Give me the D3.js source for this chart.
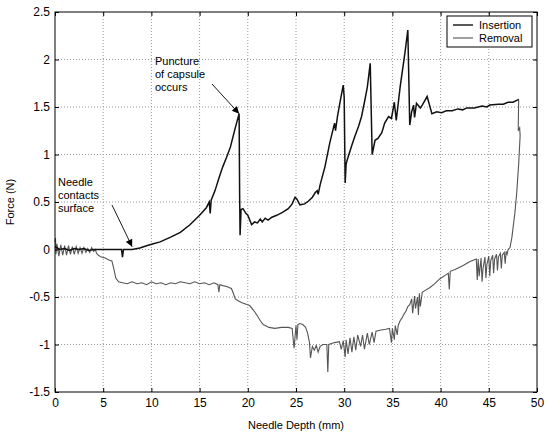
<!DOCTYPE html>
<html>
<head>
<meta charset="utf-8">
<script src="https://cdn.jsdelivr.net/npm/d3@7"></script>
<style>
  body { margin: 0; background: #fff; }
  svg { display: block; font-family: "Liberation Sans", Arial, sans-serif; }
</style>
</head>
<body>
<div id="chart"></div>
<script>
// data: [needle depth (mm), force (N)]
const insertion = [
  [0, 0.03], [0.5, 0.0], [1, 0.01], [1.5, -0.01], [2, 0.01], [2.5, 0.0], [3, 0.01], [3.5, -0.01],
  [4, 0.0], [5, 0.0], [6, 0.0], [6.9, 0.0], [7.0, -0.08], [7.1, 0.0], [8, 0.0], [8.8, 0.016],
  [9.5, 0.04], [10.2, 0.06], [10.9, 0.08], [12, 0.13], [13, 0.18], [14, 0.26], [15, 0.36],
  [15.7, 0.44], [16.0, 0.5], [16.1, 0.38], [16.2, 0.52], [16.6, 0.62], [17.0, 0.75], [17.4, 0.87],
  [17.8, 0.97], [18.2, 1.08], [18.7, 1.28], [19.1, 1.43], [19.15, 0.6], [19.2, 0.15], [19.3, 0.42],
  [19.5, 0.43], [19.8, 0.38], [20.0, 0.36], [20.4, 0.26], [20.7, 0.29], [21.0, 0.28], [21.3, 0.32],
  [21.5, 0.29], [21.8, 0.33], [22.1, 0.31], [22.5, 0.34], [23.0, 0.36], [23.6, 0.39], [24.2, 0.43],
  [24.6, 0.48], [24.9, 0.55], [25.1, 0.53], [25.4, 0.47], [25.9, 0.48], [26.3, 0.51], [26.7, 0.55],
  [27.0, 0.6], [27.2, 0.62], [27.3, 0.58], [27.5, 0.68], [28.0, 0.87], [28.5, 1.12], [29.0, 1.33],
  [29.1, 1.25], [29.3, 1.4], [29.6, 1.57], [29.9, 1.73], [30.0, 1.6], [30.1, 0.7], [30.2, 0.9],
  [30.3, 0.94], [30.8, 1.1], [31.1, 1.19], [31.5, 1.3], [31.8, 1.4], [32.1, 1.55], [32.4, 1.71],
  [32.7, 1.96], [32.9, 1.0], [33.2, 1.15], [33.5, 1.17], [33.9, 1.23], [34.2, 1.33], [34.6, 1.4],
  [34.9, 1.38], [35.2, 1.55], [35.4, 1.36], [35.8, 1.71], [36.3, 2.07], [36.6, 2.31], [36.8, 1.31],
  [37.0, 1.45], [37.2, 1.52], [37.3, 1.39], [37.5, 1.54], [37.9, 1.49], [38.1, 1.52], [38.6, 1.61],
  [39.1, 1.43], [39.6, 1.45], [40.1, 1.44], [40.6, 1.46], [41.2, 1.46], [41.8, 1.48], [42.3, 1.47],
  [42.7, 1.49], [43.5, 1.49], [44.3, 1.51], [44.8, 1.5], [45.1, 1.52], [46.0, 1.53], [46.5, 1.53],
  [47.0, 1.55], [47.5, 1.55], [47.9, 1.57], [48.1, 1.58]
];

const removal = [
  [48.1, 1.58], [48.05, 1.25], [48.2, 1.28], [48.25, 1.2], [48.1, 0.9], [47.9, 0.6], [47.7, 0.38],
  [47.4, 0.13], [47.2, 0.02], [47.0, 0.0], [46.9, -0.05], [46.8, -0.02], [46.7, -0.15], [46.6, -0.03],
  [46.4, -0.06], [46.3, -0.2], [46.2, -0.04], [46.0, -0.08], [45.9, -0.22], [45.8, -0.05], [45.6, -0.1],
  [45.5, -0.25], [45.4, -0.06], [45.2, -0.12], [45.1, -0.28], [45.0, -0.07], [44.8, -0.16], [44.7, -0.3],
  [44.6, -0.08], [44.4, -0.2], [44.3, -0.34], [44.2, -0.09], [44.0, -0.28], [43.9, -0.1], [43.8, -0.32],
  [43.7, -0.1], [43.0, -0.13], [42.3, -0.17], [41.5, -0.21], [41.0, -0.23], [40.9, -0.42], [40.8, -0.25],
  [40.5, -0.27], [39.9, -0.31], [39.4, -0.36], [38.9, -0.4], [38.4, -0.43], [38.1, -0.45], [37.9, -0.6],
  [37.8, -0.46], [37.7, -0.69], [37.6, -0.5], [37.4, -0.62], [37.3, -0.49], [37.1, -0.67], [37.0, -0.52],
  [36.8, -0.58], [36.6, -0.6], [36.4, -0.65], [36.2, -0.68], [36.0, -0.72], [35.8, -0.75], [35.6, -0.8],
  [35.5, -0.9], [35.3, -0.8], [35.2, -0.95], [35.0, -0.83], [34.9, -0.98], [34.7, -0.83], [34.3, -0.84],
  [33.7, -0.85], [33.3, -0.86], [33.1, -0.98], [32.9, -0.87], [32.6, -1.0], [32.4, -0.88], [32.1, -1.05],
  [31.9, -0.9], [31.7, -1.02], [31.4, -0.9], [31.2, -1.06], [31.0, -0.92], [30.8, -1.08], [30.6, -0.93],
  [30.4, -1.1], [30.2, -0.95], [30.1, -1.13], [29.9, -0.96], [29.7, -1.05], [29.5, -0.97], [29.0, -0.98],
  [28.7, -0.99], [28.4, -1.0], [28.3, -1.29], [28.2, -1.0], [27.8, -1.0], [27.5, -1.02], [27.3, -1.08],
  [27.1, -1.01], [26.9, -1.06], [26.7, -1.02], [26.5, -1.14], [26.4, -0.98], [26.2, -0.88], [26.0, -0.82],
  [25.7, -0.79], [25.4, -0.78], [25.2, -0.79], [25.1, -0.95], [25.0, -0.8], [24.8, -1.04], [24.6, -0.83],
  [24.2, -0.82], [23.5, -0.82], [22.8, -0.83], [22.2, -0.82], [21.6, -0.79], [21.3, -0.75], [21.0, -0.7],
  [20.6, -0.64], [20.2, -0.59], [19.9, -0.58], [19.4, -0.56], [19.0, -0.54], [18.7, -0.52], [18.5, -0.46],
  [18.3, -0.41], [17.8, -0.39], [17.4, -0.38], [17.1, -0.37], [17.0, -0.45], [16.9, -0.37], [16.5, -0.35],
  [16.0, -0.37], [15.5, -0.35], [15.0, -0.36], [14.5, -0.34], [14.0, -0.36], [13.5, -0.35], [13.0, -0.34],
  [12.5, -0.36], [12.0, -0.35], [11.5, -0.37], [11.0, -0.35], [10.5, -0.36], [10.0, -0.34], [9.5, -0.37],
  [9.0, -0.35], [8.5, -0.36], [8.0, -0.34], [7.5, -0.36], [7.0, -0.35], [6.6, -0.34], [6.3, -0.3],
  [6.1, -0.2], [5.9, -0.12], [5.6, -0.11], [5.2, -0.09], [4.8, -0.08], [4.5, -0.06], [4.3, -0.04],
  [4.2, 0.0], [4.0, -0.02], [3.8, 0.02], [3.6, -0.03], [3.4, 0.01], [3.2, -0.03], [3.0, 0.02],
  [2.8, -0.04], [2.6, 0.02], [2.4, -0.04], [2.2, 0.03], [2.0, -0.05], [1.8, 0.03], [1.6, -0.05],
  [1.4, 0.04], [1.2, -0.06], [1.0, 0.04], [0.8, -0.06], [0.6, 0.05], [0.4, -0.07], [0.2, 0.06],
  [0.1, -0.05], [0.05, 0.12], [0, 0.08]
];

const xTicks = [0, 5, 10, 15, 20, 25, 30, 35, 40, 45, 50];
const yTicks = [-1.5, -1, -0.5, 0, 0.5, 1, 1.5, 2, 2.5];
const seriesNames = ["Insertion", "Removal"];

// annotation text lines and where the arrows point (data units)
const punctureLines = ["Puncture", "of capsule", "occurs"];
const punctureAt = [19.1, 1.43];
const contactLines = ["Needle", "contacts", "surface"];
const contactAt = [8.0, 0.03];

const width = 550, height = 441;
const margin = { top: 12, right: 13, bottom: 49, left: 55 };

const svg = d3.select("#chart")
  .append("svg")
  .attr("width", width)
  .attr("height", height);

const x = d3.scaleLinear().domain([0, 50]).range([margin.left, width - margin.right]);
const y = d3.scaleLinear().domain([-1.5, 2.5]).range([height - margin.bottom, margin.top]);

// dotted grid
svg.append("g")
  .selectAll("line")
  .data(xTicks.slice(1, -1))
  .enter()
  .append("line")
  .attr("x1", d => x(d)).attr("x2", d => x(d))
  .attr("y1", y(-1.5)).attr("y2", y(2.5))
  .attr("stroke", "#999").attr("stroke-dasharray", "1,2");

svg.append("g")
  .selectAll("line")
  .data(yTicks.slice(1, -1))
  .enter()
  .append("line")
  .attr("y1", d => y(d)).attr("y2", d => y(d))
  .attr("x1", x(0)).attr("x2", x(50))
  .attr("stroke", "#999").attr("stroke-dasharray", "1,2");

// curves
const line = d3.line().x(d => x(d[0])).y(d => y(d[1]));

svg.append("path")
  .datum(removal)
  .attr("d", line)
  .attr("fill", "none")
  .attr("stroke", "#555")
  .attr("stroke-width", 1.1);

svg.append("path")
  .datum(insertion)
  .attr("d", line)
  .attr("fill", "none")
  .attr("stroke", "#111")
  .attr("stroke-width", 1.5);

// axes with inward ticks on all four sides
const fmt = d => String(d);
function styleAxis(g) {
  g.select(".domain").remove();
  g.selectAll(".tick line").attr("stroke", "#000");
  g.selectAll(".tick text").attr("fill", "#000").style("font-size", "12px");
}

svg.append("g")
  .attr("transform", `translate(0,${y(-1.5)})`)
  .call(d3.axisBottom(x).tickValues(xTicks).tickFormat(fmt).tickSizeInner(-4).tickPadding(6))
  .call(styleAxis);

svg.append("g")
  .attr("transform", `translate(0,${y(2.5)})`)
  .call(d3.axisTop(x).tickValues(xTicks).tickFormat("").tickSizeInner(-4))
  .call(styleAxis);

svg.append("g")
  .attr("transform", `translate(${x(0)},0)`)
  .call(d3.axisLeft(y).tickValues(yTicks).tickFormat(fmt).tickSizeInner(-4).tickPadding(5))
  .call(styleAxis);

svg.append("g")
  .attr("transform", `translate(${x(50)},0)`)
  .call(d3.axisRight(y).tickValues(yTicks).tickFormat("").tickSizeInner(-4))
  .call(styleAxis);

svg.append("rect")
  .attr("x", x(0)).attr("y", y(2.5))
  .attr("width", x(50) - x(0)).attr("height", y(-1.5) - y(2.5))
  .attr("fill", "none").attr("stroke", "#000");

// axis titles
svg.append("text")
  .attr("x", (x(0) + x(50)) / 2).attr("y", 429)
  .attr("text-anchor", "middle")
  .style("font-size", "11px")
  .text("Needle Depth (mm)");

svg.append("text")
  .attr("transform", `translate(14,${(y(-1.5) + y(2.5)) / 2}) rotate(-90)`)
  .attr("text-anchor", "middle")
  .style("font-size", "11px")
  .text("Force (N)");

// arrows
svg.append("defs").append("marker")
  .attr("id", "head")
  .attr("viewBox", "0 0 10 10")
  .attr("refX", 10).attr("refY", 5)
  .attr("markerWidth", 9).attr("markerHeight", 7)
  .attr("markerUnits", "userSpaceOnUse")
  .attr("orient", "auto")
  .append("path")
  .attr("d", "M0,0L10,5L0,10Z")
  .attr("fill", "#000");

function annotate(lines, tx, ty, ax, ay, at) {
  svg.append("text")
    .attr("x", tx).attr("y", ty)
    .style("font-size", "11px")
    .selectAll("tspan")
    .data(lines)
    .enter()
    .append("tspan")
    .attr("x", tx)
    .attr("dy", (d, i) => i === 0 ? 0 : 13)
    .text(d => d);
  svg.append("line")
    .attr("x1", ax).attr("y1", ay)
    .attr("x2", x(at[0])).attr("y2", y(at[1]))
    .attr("stroke", "#000")
    .attr("stroke-width", 0.9)
    .attr("marker-end", "url(#head)");
}

annotate(punctureLines, 155, 65, 212, 84, punctureAt);
annotate(contactLines, 58, 186, 112, 205, contactAt);

// legend
const legend = svg.append("g").attr("transform", "translate(447,16)");
legend.append("rect")
  .attr("width", 85).attr("height", 31)
  .attr("fill", "#fff").attr("stroke", "#000");
legend.selectAll("line.key")
  .data(seriesNames)
  .enter()
  .append("line")
  .attr("x1", 6).attr("x2", 26)
  .attr("y1", (d, i) => 9 + i * 13).attr("y2", (d, i) => 9 + i * 13)
  .attr("stroke", (d, i) => i === 0 ? "#222" : "#555")
  .attr("stroke-width", (d, i) => i === 0 ? 1.5 : 1.1);
legend.selectAll("text")
  .data(seriesNames)
  .enter()
  .append("text")
  .attr("x", 32)
  .attr("y", (d, i) => 13 + i * 13)
  .style("font-size", "11px")
  .text(d => d);
</script>
</body>
</html>
